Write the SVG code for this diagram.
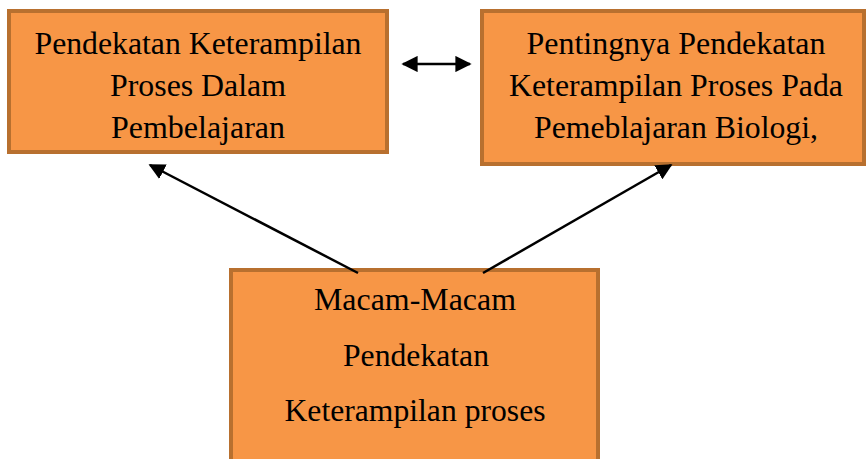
<svg xmlns="http://www.w3.org/2000/svg" width="868" height="459" viewBox="0 0 868 459">
<style>
.box{fill:#F79646;stroke:#B8702F;stroke-width:4}
.t{font-family:"Liberation Serif","Times New Roman",serif;font-size:31px;fill:#000;text-anchor:middle}
.c{stroke:#000;stroke-width:2.5;fill:none}
</style>
<defs>
<marker id="ah2" viewBox="0 0 10 10" refX="9" refY="5" markerWidth="6.5" markerHeight="6.5" orient="auto-start-reverse">
<path d="M0,0 L10,5 L0,10 z" fill="#000"/>
</marker>
</defs>
<rect width="868" height="459" fill="#fff"/>
<g id="node1">
<rect class="box" x="9" y="11" width="378" height="141"/>
<text class="t" x="198" y="54" textLength="327" lengthAdjust="spacingAndGlyphs">Pendekatan Keterampilan</text>
<text class="t" x="198" y="96" textLength="176" lengthAdjust="spacingAndGlyphs">Proses Dalam</text>
<text class="t" x="198" y="138" textLength="174" lengthAdjust="spacingAndGlyphs">Pembelajaran</text>
</g>
<g id="node2">
<rect class="box" x="482" y="11" width="382" height="153"/>
<text class="t" x="676" y="54" textLength="299" lengthAdjust="spacingAndGlyphs">Pentingnya Pendekatan</text>
<text class="t" x="676" y="96" textLength="334" lengthAdjust="spacingAndGlyphs">Keterampilan Proses Pada</text>
<text class="t" x="676" y="138" textLength="284" lengthAdjust="spacingAndGlyphs">Pemeblajaran Biologi,</text>
</g>
<g id="node3">
<rect class="box" x="231" y="270" width="367" height="200"/>
<text class="t" x="415" y="310" textLength="202" lengthAdjust="spacingAndGlyphs">Macam-Macam</text>
<text class="t" x="416" y="366" textLength="146" lengthAdjust="spacingAndGlyphs">Pendekatan</text>
<text class="t" x="415" y="421" textLength="261" lengthAdjust="spacingAndGlyphs">Keterampilan proses</text>
</g>
<g id="connectors">
<line class="c" x1="358" y1="273" x2="150" y2="165" marker-end="url(#ah2)"/>
<line class="c" x1="483" y1="273" x2="671" y2="165" marker-end="url(#ah2)"/>
<line class="c" x1="403" y1="64" x2="470" y2="64" marker-start="url(#ah2)" marker-end="url(#ah2)"/>
</g>
</svg>
